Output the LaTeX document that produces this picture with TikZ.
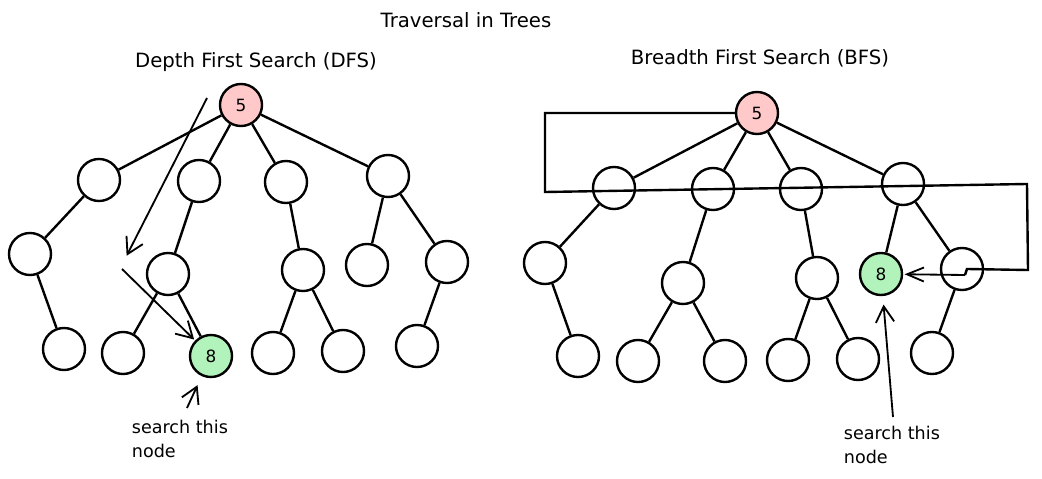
\documentclass[tikz,border=0pt]{standalone}
\usepackage{fontspec}
\setmainfont{DejaVu Sans}
\usetikzlibrary{arrows.meta,positioning}
\definecolor{rootred}{HTML}{FFC9C9}
\definecolor{goalgreen}{HTML}{B2F2BB}

\begin{document}
\begin{tikzpicture}[x=0.025cm,y=-0.025cm,line width=1.7pt,
    >={Straight Barb[angle=60:13pt]},
    vertex/.style={circle,draw,minimum size=1.05cm,inner sep=0pt,font=\fontsize{12}{14}\selectfont},
    heading/.style={font=\fontsize{14}{17}\selectfont},
    note/.style={anchor=north west,align=left,font=\fontsize{12.5}{17}\selectfont},
    pointer/.style={->,line width=1.3pt,shorten >=1pt}]
  \useasboundingbox (0,0) rectangle (1042,479);

  % titles
  \node (title) [heading] at (466,20) {Traversal in Trees};
  \node (dfs) [heading] at (256,62) {Depth First Search (DFS)};
  \node (bfs) [heading] at (760,58) {Breadth First Search (BFS)};

  % DFS tree
  \node (dR) [vertex,fill=rootred] at (241,105) {5};
  \node (dA) [vertex] at (99,180) {};
  \node (dB) [vertex] at (199,181) {};
  \node (dC) [vertex] at (286,182) {};
  \node (dD) [vertex] at (388,176) {};
  \node (dA1) [vertex] at (30,254) {};
  \node (dB1) [vertex] at (168,274) {};
  \node (dC1) [vertex] at (303,270) {};
  \node (dD1) [vertex] at (367,265) {};
  \node (dD2) [vertex] at (447,262) {};
  \node (dA2) [vertex] at (64,349) {};
  \node (dB2) [vertex] at (123,353) {};
  \node (dB3) [vertex,fill=goalgreen] at (211,356) {8};
  \node (dC2) [vertex] at (273,353) {};
  \node (dC3) [vertex] at (343,351) {};
  \node (dD3) [vertex] at (417,346) {};
  \path (dR) edge (dA) edge (dB) edge (dC) edge (dD)
        (dA) edge (dA1) (dA1) edge (dA2)
        (dB) edge (dB1) (dB1) edge (dB2) edge (dB3)
        (dC) edge (dC1) (dC1) edge (dC2) edge (dC3)
        (dD) edge (dD1) edge (dD2) (dD2) edge (dD3);

  % DFS direction
  \coordinate (dfsA) at (207,98);
  \coordinate (dfsB) at (126,257);
  \coordinate (dfsC) at (122,269);
  \coordinate (dfsD) at (187,408);
  \draw[pointer] (dfsA) -- (dfsB);
  \draw[pointer] (dfsC) -- (dB3);
  \draw[pointer,shorten >=7pt] (dfsD) -- (dB3);
  \node (dNote) [note] at (126,414) {search this\\node};

  % BFS tree
  \node (bR) [vertex,fill=rootred] at (757,113) {5};
  \node (bA) [vertex] at (614,188) {};
  \node (bB) [vertex] at (713,189) {};
  \node (bC) [vertex] at (801,189) {};
  \node (bD) [vertex] at (903,184) {};
  \node (bA1) [vertex] at (545,263) {};
  \node (bB1) [vertex] at (683,283) {};
  \node (bC1) [vertex] at (817,278) {};
  \node (bD1) [vertex,fill=goalgreen] at (881,274) {8};
  \node (bD2) [vertex] at (962,269) {};
  \node (bA2) [vertex] at (578,356) {};
  \node (bB2) [vertex] at (638,361) {};
  \node (bB3) [vertex] at (725,361) {};
  \node (bC2) [vertex] at (788,360) {};
  \node (bC3) [vertex] at (858,359) {};
  \node (bD3) [vertex] at (932,353) {};
  \path (bR) edge (bA) edge (bB) edge (bC) edge (bD)
        (bA) edge (bA1) (bA1) edge (bA2)
        (bB) edge (bB1) (bB1) edge (bB2) edge (bB3)
        (bC) edge (bC1) (bC1) edge (bC2) edge (bC3)
        (bD) edge (bD1) edge (bD2) (bD2) edge (bD3);

  % BFS level by level
  \coordinate (bfsA) at (545,113);
  \coordinate (bfsB) at (545,192);
  \coordinate (bfsC) at (1027,184);
  \coordinate (bfsD) at (1028,270);
  \coordinate (bfsE) at (967,269);
  \coordinate (bfsF) at (965,275);
  \coordinate (bfsG) at (893,417);
  \draw (bR.west) -- (bfsA) -- (bfsB) -- (bfsC) -- (bfsD) -- (bfsE) -- (bfsF);
  \draw[pointer,>={Straight Barb[angle=45:13pt]}] (bfsF) -- (bD1);
  \draw[pointer,shorten >=6pt] (bfsG) -- (bD1);
  \node (bNote) [note] at (838,420) {search this\\node};
\end{tikzpicture}
\end{document}
